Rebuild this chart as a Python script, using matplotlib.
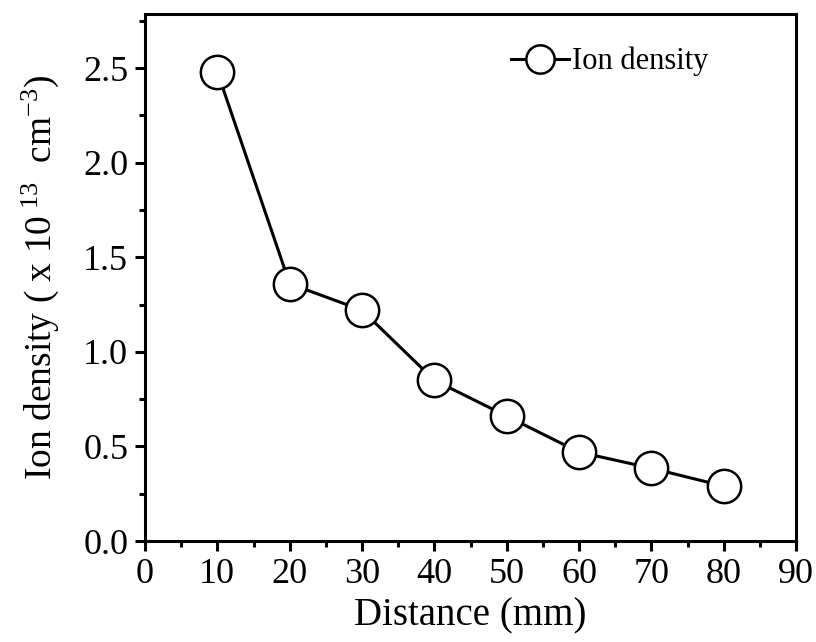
import matplotlib
matplotlib.use("Agg")
import matplotlib.pyplot as plt

plt.rcParams["font.family"] = ["Liberation Serif", "DejaVu Serif"]
plt.rcParams["mathtext.fontset"] = "custom"
plt.rcParams["mathtext.rm"] = "Liberation Serif"
plt.rcParams["mathtext.it"] = "Liberation Serif"

distance = [10, 20, 30, 40, 50, 60, 70, 80]
ion_density = [2.48, 1.36, 1.22, 0.85, 0.66, 0.47, 0.385, 0.29]

fig = plt.figure(figsize=(8.16, 6.42), dpi=100)
ax = fig.add_axes([0.1777, 0.1573, 0.7978, 0.8207])

ax.plot(distance, ion_density, color="black", lw=2.2, marker="o", ms=24,
        mfc="white", mec="black", mew=1.8, label="Ion density")

ax.set_xlim(0, 90)
ax.set_ylim(0, 2.785)
ax.set_xticks(range(0, 91, 10))
ax.set_xticks(range(5, 90, 10), minor=True)
ax.set_yticks([0.0, 0.5, 1.0, 1.5, 2.0, 2.5])
ax.set_yticks([0.25, 0.75, 1.25, 1.75, 2.25, 2.75], minor=True)
ax.yaxis.set_major_formatter(matplotlib.ticker.FormatStrFormatter("%.1f"))

for s in ax.spines.values():
    s.set_linewidth(2.2)
ax.tick_params(which="major", direction="out", length=7, width=2.2, labelsize=26, pad=5)
ax.tick_params(which="minor", direction="out", length=4, width=2.2)

ax.set_xlabel("Distance (mm)", fontsize=28, labelpad=5)
ax.set_ylabel(r"Ion density ( x 10$^{\ 13}$  cm$^{-3}$)", fontsize=27, labelpad=16)

ax.legend(loc="upper right", bbox_to_anchor=(0.908, 0.99), frameon=False, fontsize=22,
          markerscale=0.85, handlelength=1.9, handletextpad=0.1)

fig.savefig("out.png", dpi=100)
